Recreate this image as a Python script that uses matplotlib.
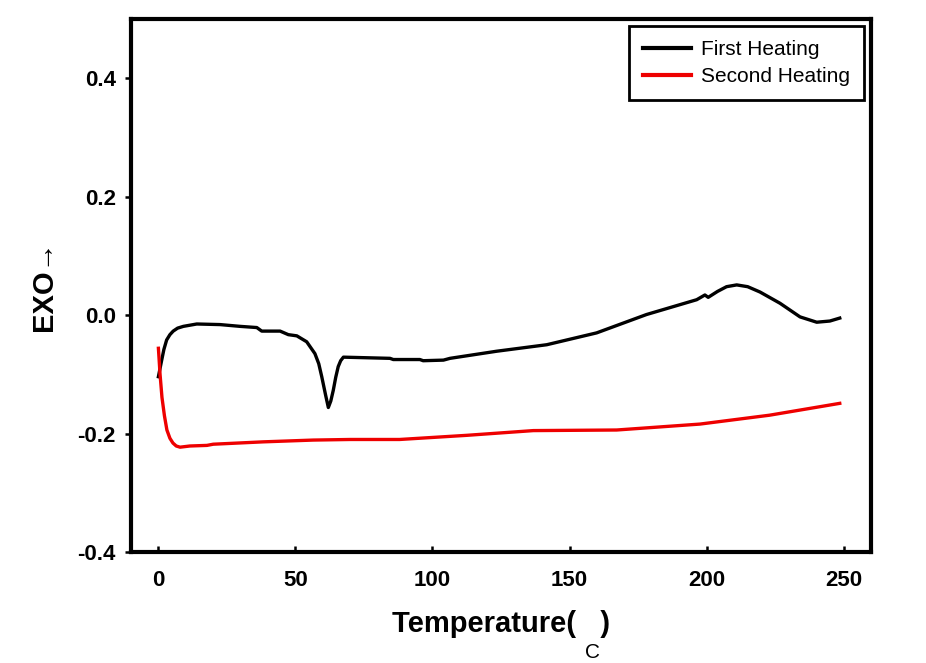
import numpy as np
import matplotlib
matplotlib.use('Agg')
import matplotlib.pyplot as plt

plt.rcParams['font.family'] = ['Liberation Sans', 'DejaVu Sans']
plt.rcParams['axes.unicode_minus'] = False

# First Heating (black)
temp_first = [0, 0.6, 1.2, 2.0, 3.0, 4.2, 5.4, 7.0, 9.1, 14, 22.5, 29.8, 35.9, 37.7,
              44.4, 47.4, 50.5, 54.1, 57.1, 58.5, 59.6, 61.0, 62, 62.9, 63.8, 64.7,
              65.6, 66.5, 67.5, 84.5, 85.7, 95.4, 96.6, 104, 106.4, 123.4, 141.7,
              159.9, 178.1, 196.4, 199.4, 200.6, 204, 207.3, 211, 215, 219.5, 226.8,
              234.1, 240.2, 245, 248.6]
exo_first = [-0.104, -0.090, -0.076, -0.058, -0.042, -0.033, -0.027, -0.022, -0.019,
             -0.015, -0.016, -0.019, -0.021, -0.027, -0.027, -0.033, -0.035, -0.045,
             -0.065, -0.082, -0.104, -0.135, -0.156, -0.145, -0.127, -0.105, -0.087,
             -0.077, -0.071, -0.073, -0.075, -0.075, -0.077, -0.076, -0.073, -0.061,
             -0.050, -0.030, 0.001, 0.026, 0.034, 0.030, 0.040, 0.048, 0.051, 0.048,
             0.039, 0.020, -0.003, -0.012, -0.010, -0.005]

# Second Heating (red)
temp_second = [0, 0.6, 1.3, 2.2, 3.1, 4.2, 5.3, 6.5, 7.9, 11.5, 17.7, 20, 38.3, 56.5,
               70, 88, 112.5, 136.8, 167.2, 197.6, 223, 248.6]
exo_second = [-0.056, -0.100, -0.139, -0.170, -0.194, -0.208, -0.216, -0.221, -0.223,
              -0.221, -0.220, -0.218, -0.214, -0.211, -0.210, -0.210, -0.203, -0.195,
              -0.194, -0.184, -0.169, -0.149]

x_ticks = [0, 50, 100, 150, 200, 250]
y_ticks = [-0.4, -0.2, 0.0, 0.2, 0.4]

fig = plt.figure(figsize=(9.26, 6.63), dpi=100)
ax = fig.add_axes([131 / 926, 1 - 552 / 663, (871 - 131) / 926, (552 - 19) / 663])

ax.plot(temp_first, exo_first, color='black', lw=2.4, label='First Heating')
ax.plot(temp_second, exo_second, color='#ee0000', lw=2.4, label='Second Heating')

ax.set_xlim(-10, 260)
ax.set_ylim(-0.4, 0.5)
ax.set_xticks(x_ticks)
ax.set_yticks(y_ticks)
ax.set_yticklabels(['%.1f' % v for v in y_ticks])

for s in ax.spines.values():
    s.set_linewidth(3)
ax.tick_params(axis='x', direction='in', length=4, width=1.8, labelsize=16, pad=13)
ax.tick_params(axis='y', direction='out', length=4, width=1.8, labelsize=16, pad=7)
for lab in ax.get_xticklabels() + ax.get_yticklabels():
    lab.set_fontweight('bold')

ax.set_xlabel('Temperature(   )', fontsize=21, fontweight='bold', labelpad=14)
ax.set_ylabel('EXO\u2192', fontsize=21, fontweight='bold', labelpad=14)
# the degree sign is lost in the original, only a lowered "C" remains
fig.text(592 / 926, 1 - 643 / 663, 'C', fontsize=15, ha='center', va='top')

leg = ax.legend(loc='upper right', fontsize=15, fancybox=False, framealpha=1,
                edgecolor='black', borderpad=0.65, labelspacing=0.4,
                handlelength=2.3, handletextpad=0.5, borderaxespad=0.35)
leg.get_frame().set_linewidth(2)
for line in leg.get_lines():
    line.set_linewidth(3)

plt.savefig('out.png', dpi=100)
